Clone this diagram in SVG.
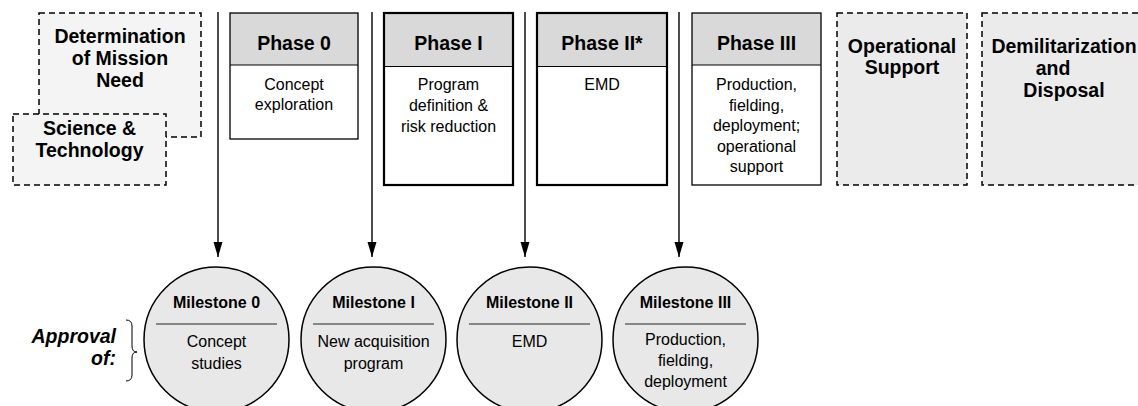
<svg xmlns="http://www.w3.org/2000/svg" width="1138" height="406" viewBox="0 0 1138 406">
<defs>
<marker id="arr" markerWidth="15" markerHeight="10" refX="15" refY="5" orient="auto" markerUnits="userSpaceOnUse" viewBox="0 0 15 10">
<path d="M0,0.5 L15,5 L0,9.5 Z" fill="#000"/>
</marker>
<style>
.dash{fill:#ebebeb;stroke:#000;stroke-width:1.5;stroke-dasharray:6 4}
.dashl{fill:#f4f4f4;stroke:#000;stroke-width:1.5;stroke-dasharray:6 4}
.box{fill:none;stroke:#000;stroke-width:1.3}
.boxt{fill:none;stroke:#000;stroke-width:2.2}
.hdr{fill:#d9d9d9}
.hl{stroke:#000;stroke-width:1.2}
.b{font-family:"Liberation Sans",Arial,sans-serif;font-weight:bold;font-size:19.5px;text-anchor:middle;fill:#000}
.r{font-family:"Liberation Sans",Arial,sans-serif;font-size:16px;text-anchor:middle;fill:#000}
.mb{font-family:"Liberation Sans",Arial,sans-serif;font-weight:bold;font-size:16px;text-anchor:middle;fill:#000}
.ap{font-family:"Liberation Sans",Arial,sans-serif;font-weight:bold;font-style:italic;font-size:19.5px;text-anchor:end;fill:#000}
.circ{fill:#e8e8e8;stroke:#000;stroke-width:1.5}
.div{stroke:#666;stroke-width:1.5}
.con{stroke:#000;stroke-width:1.4;fill:none}
</style>
</defs>
<rect width="1138" height="406" fill="#fff"/>

<g id="determination">
<rect class="dashl" x="39" y="13" width="162" height="124"/>
<text class="b" x="120" y="43">Determination</text>
<text class="b" x="120" y="65">of Mission</text>
<text class="b" x="120" y="87">Need</text>
</g>
<g id="science">
<rect class="dashl" x="13" y="114" width="153" height="71"/>
<text class="b" x="89.5" y="135">Science &amp;</text>
<text class="b" x="89.5" y="157">Technology</text>
</g>

<g id="phase0">
<rect class="hdr" x="230" y="13" width="128" height="52"/>
<rect class="box" x="230" y="13" width="128" height="126"/>
<line class="hl" x1="230" y1="65" x2="358" y2="65"/>
<text class="b" x="294" y="50">Phase 0</text>
<text class="r" x="294" y="90">Concept</text>
<text class="r" x="294" y="110">exploration</text>
</g>

<g id="phase1">
<rect class="hdr" x="384" y="13" width="129" height="54"/>
<rect class="boxt" x="384" y="13" width="129" height="172"/>
<line class="hl" x1="384" y1="66.5" x2="513" y2="66.5"/>
<text class="b" x="448.5" y="50">Phase I</text>
<text class="r" x="448.5" y="90">Program</text>
<text class="r" x="448.5" y="111">definition &amp;</text>
<text class="r" x="448.5" y="132">risk reduction</text>
</g>

<g id="phase2">
<rect class="hdr" x="537" y="13" width="130" height="54"/>
<rect class="boxt" x="537" y="13" width="130" height="172"/>
<line class="hl" x1="537" y1="66.5" x2="667" y2="66.5"/>
<text class="b" x="602" y="50">Phase II*</text>
<text class="r" x="602" y="90">EMD</text>
</g>

<g id="phase3">
<rect class="hdr" x="692" y="13" width="129" height="52"/>
<rect class="box" x="692" y="13" width="129" height="172"/>
<line class="hl" x1="692" y1="65" x2="821" y2="65"/>
<text class="b" x="756.5" y="50">Phase III</text>
<text class="r" x="756.5" y="90">Production,</text>
<text class="r" x="756.5" y="110.5">fielding,</text>
<text class="r" x="756.5" y="131">deployment;</text>
<text class="r" x="756.5" y="151.5">operational</text>
<text class="r" x="756.5" y="172">support</text>
</g>

<g id="operational">
<rect class="dash" x="837" y="13" width="130" height="172"/>
<text class="b" x="902" y="53">Operational</text>
<text class="b" x="902" y="74">Support</text>
</g>

<g id="demil">
<rect class="dash" x="982" y="13" width="170" height="172"/>
<text class="b" x="1064" y="53">Demilitarization</text>
<text class="b" x="1053" y="75">and</text>
<text class="b" x="1064" y="97">Disposal</text>
</g>

<g id="connectors">
<line class="con" x1="218" y1="12" x2="218" y2="257" marker-end="url(#arr)"/>
<line class="con" x1="372" y1="12" x2="372" y2="257" marker-end="url(#arr)"/>
<line class="con" x1="525" y1="12" x2="525" y2="257" marker-end="url(#arr)"/>
<line class="con" x1="679" y1="12" x2="679" y2="257" marker-end="url(#arr)"/>
</g>

<g id="milestone0">
<circle class="circ" cx="216.5" cy="339.5" r="72.5"/>
<text class="mb" x="216.5" y="308">Milestone 0</text>
<line class="div" x1="156" y1="324" x2="277" y2="324"/>
<text class="r" x="216.5" y="347">Concept</text>
<text class="r" x="216.5" y="369">studies</text>
</g>

<g id="milestone1">
<circle class="circ" cx="373.5" cy="339.5" r="72.5"/>
<text class="mb" x="373.5" y="308">Milestone I</text>
<line class="div" x1="313" y1="324" x2="434" y2="324"/>
<text class="r" x="373.5" y="347">New acquisition</text>
<text class="r" x="373.5" y="369">program</text>
</g>

<g id="milestone2">
<circle class="circ" cx="529.5" cy="339.5" r="72.5"/>
<text class="mb" x="529.5" y="308">Milestone II</text>
<line class="div" x1="469" y1="324" x2="590" y2="324"/>
<text class="r" x="529.5" y="347">EMD</text>
</g>

<g id="milestone3">
<circle class="circ" cx="685.5" cy="339.5" r="72.5"/>
<text class="mb" x="685.5" y="308">Milestone III</text>
<line class="div" x1="625" y1="324" x2="746" y2="324"/>
<text class="r" x="685.5" y="345">Production,</text>
<text class="r" x="685.5" y="366">fielding,</text>
<text class="r" x="685.5" y="387">deployment</text>
</g>

<g id="approval">
<text class="ap" x="116" y="343">Approval</text>
<text class="ap" x="116" y="365">of:</text>
<path d="M126,320 Q132,320 132,326 L132,346 Q132,352 137,352 Q132,352 132,358 L132,375 Q132,381 126,381" fill="none" stroke="#000" stroke-width="1"/>
</g>
</svg>
